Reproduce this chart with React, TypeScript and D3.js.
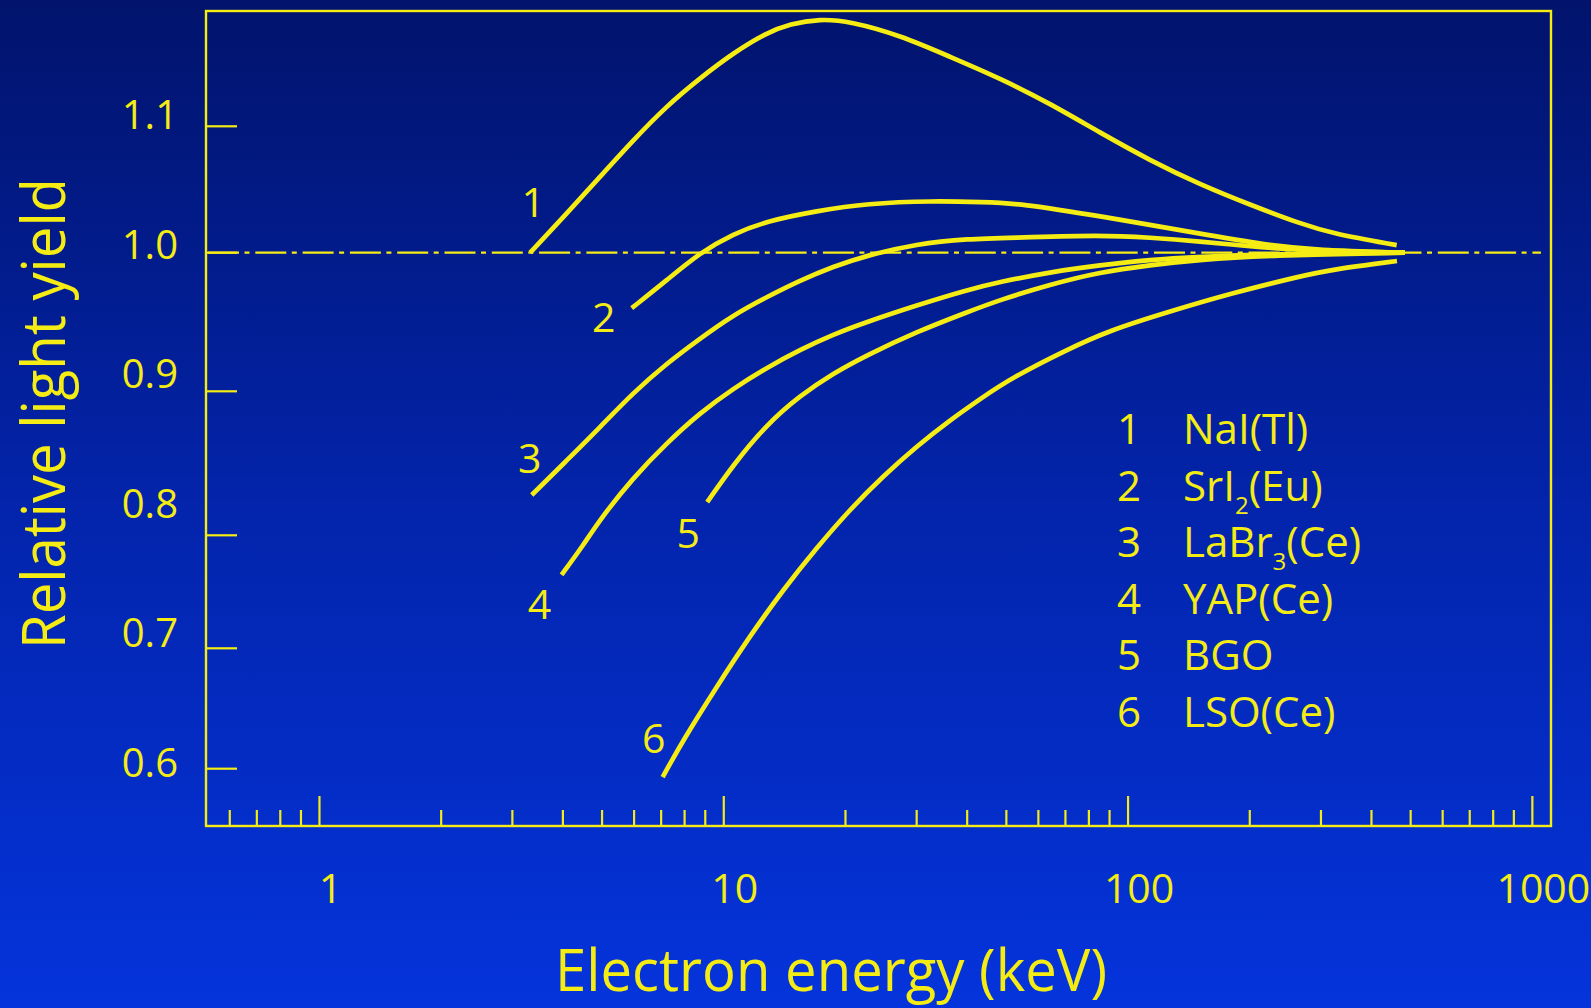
import React from "react";
import * as d3 from "d3";

// electron energy (keV) and relative light yield
const energyNaI = [3.32, 4.09, 4.94, 5.97, 7.22, 8.73, 10.56, 12.77, 14.58, 17.29, 20.52, 27.28, 36.27, 48.23, 64.1, 85.2, 113.3, 150.6, 200.2, 266.2, 321.8, 461.8];
const yieldNaI = [1.0, 1.031, 1.06, 1.089, 1.116, 1.138, 1.158, 1.174, 1.181, 1.185, 1.183, 1.172, 1.155, 1.138, 1.118, 1.095, 1.073, 1.054, 1.038, 1.023, 1.015, 1.006];

const energySrI = [5.92, 7.22, 8.73, 10.56, 12.77, 16.98, 22.57, 32.98, 43.85, 54.03, 85.2, 150.6, 220.2, 292.7, 484];
const yieldSrI = [0.96, 0.98, 1.0, 1.015, 1.025, 1.033, 1.039, 1.041, 1.04, 1.039, 1.029, 1.015, 1.006, 1.002, 1.0];

const energyLaBr = [3.35, 4.09, 4.94, 5.97, 7.22, 8.73, 10.56, 12.77, 15.44, 18.66, 22.57, 30.0, 39.9, 54.0, 85.2, 113.3, 150.6, 200.2, 266.2, 484];
const yieldLaBr = [0.828, 0.852, 0.875, 0.899, 0.92, 0.938, 0.955, 0.968, 0.98, 0.99, 0.998, 1.007, 1.011, 1.012, 1.014, 1.012, 1.009, 1.005, 1.002, 1.0];

const energyYAP = [3.97, 4.49, 4.94, 5.97, 7.22, 8.73, 10.56, 12.77, 15.44, 18.66, 22.57, 30.0, 39.9, 48.23, 64.1, 85.2, 113.3, 150.6, 220.2, 484];
const yieldYAP = [0.765, 0.791, 0.811, 0.84, 0.864, 0.885, 0.902, 0.917, 0.93, 0.941, 0.95, 0.962, 0.973, 0.979, 0.986, 0.991, 0.995, 0.997, 0.999, 1.0];

const energyBGO = [9.1, 10.56, 12.77, 15.44, 18.66, 22.57, 30.0, 39.9, 48.23, 64.1, 85.2, 113.3, 150.6, 220.2, 484];
const yieldBGO = [0.823, 0.849, 0.877, 0.897, 0.913, 0.926, 0.943, 0.957, 0.966, 0.977, 0.986, 0.991, 0.995, 0.998, 1.0];

const energyLSO = [7.06, 7.94, 9.6, 11.61, 14.04, 16.98, 20.52, 24.76, 30.05, 36.27, 43.77, 51.05, 70.5, 90.2, 124.8, 181.7, 266.2, 321.2, 462.6];
const yieldLSO = [0.593, 0.624, 0.668, 0.711, 0.752, 0.789, 0.818, 0.841, 0.862, 0.88, 0.896, 0.909, 0.93, 0.944, 0.957, 0.971, 0.983, 0.988, 0.994];

const curveNumbers = ["1", "2", "3", "4", "5", "6"];
// legend names split as [before subscript, subscript, after]
const crystalNames = [
  ["NaI(Tl)", "", ""],
  ["SrI", "2", "(Eu)"],
  ["LaBr", "3", "(Ce)"],
  ["YAP(Ce)", "", ""],
  ["BGO", "", ""],
  ["LSO(Ce)", "", ""],
];

const yTicks = [0.6, 0.7, 0.8, 0.9, 1.0, 1.1];
const yTickLabels = ["0.6", "0.7", "0.8", "0.9", "1.0", "1.1"];
const xMajor = [1, 10, 100, 1000];
const xMajorLabels = ["1", "10", "100", "1000"];
const xMinor = [0.6, 0.7, 0.8, 0.9, 2, 3, 4, 5, 6, 7, 8, 9, 20, 30, 40, 50, 60, 70, 80, 90, 200, 300, 400, 500, 600, 700, 800, 900];

const YEL = "#f5ec14";
const FONT = "'Open Sans', 'Noto Sans', sans-serif";

export default function App() {
  const W = 1591;
  const H = 1008;
  const left = 206, right = 1551, top = 11, bottom = 826;

  const x = d3.scaleLog().domain([0.524, 1112]).range([left, right]);
  // the printed axis is not quite even, so the tick positions are kept piecewise
  const y = d3
    .scaleLinear()
    .domain([0.5524, 0.6, 0.7, 0.8, 0.9, 1.0, 1.1, 1.1912])
    .range([bottom, 768.7, 648.3, 535.3, 391.3, 252.7, 126.3, top]);
  // tick labels sit on an even spacing
  const yText = d3.scaleLinear().domain([0.6, 1.1]).range([777, 129]);

  const line = d3
    .line<[number, number]>()
    .x((d) => x(d[0]))
    .y((d) => y(d[1]))
    .curve(d3.curveBasis);

  const series = [
    [energyNaI, yieldNaI],
    [energySrI, yieldSrI],
    [energyLaBr, yieldLaBr],
    [energyYAP, yieldYAP],
    [energyBGO, yieldBGO],
    [energyLSO, yieldLSO],
  ].map(([e, v]) => e.map((d, i) => [d, v[i]] as [number, number]));

  // where each curve number sits relative to the curve's first point
  const labelOffsets = [
    [3, -36],
    [-28, 24],
    [-2, -22],
    [-22, 44],
    [-19, 46],
    [-9, -24],
  ];

  return (
    <svg width={W} height={H} style={{ position: "absolute", left: 0, top: 0, display: "block" }} fontFamily={FONT}>
      <defs>
        <linearGradient id="bg" x1="0" y1="0" x2="0" y2="1">
          <stop offset="0" stopColor="#01136c" />
          <stop offset="0.5" stopColor="#0324ab" />
          <stop offset="1" stopColor="#0534dc" />
        </linearGradient>
      </defs>
      <rect width={W} height={H} fill="url(#bg)" />

      {/* reference line at 1.0 */}
      <line
        x1={left}
        x2={x(1050)}
        y1={y(1.0)}
        y2={y(1.0)}
        stroke={YEL}
        strokeWidth={2.2}
        strokeDasharray="31 5.5 5 5.8"
        strokeDashoffset={-2}
      />

      {/* frame */}
      <rect x={left} y={top} width={right - left} height={bottom - top} fill="none" stroke={YEL} strokeWidth={2.4} />

      {/* y ticks */}
      {yTicks.map((t, i) => (
        <g key={"yt" + i}>
          <line x1={left} x2={left + 31} y1={y(t)} y2={y(t)} stroke={YEL} strokeWidth={2.2} />
          <text x={178} y={yText(t)} textAnchor="end" fontSize={40} fill={YEL}>
            {yTickLabels[i]}
          </text>
        </g>
      ))}

      {/* x ticks */}
      {xMinor.map((t, i) => (
        <line key={"xm" + i} x1={x(t)} x2={x(t)} y1={bottom} y2={bottom - 16} stroke={YEL} strokeWidth={2.2} />
      ))}
      {xMajor.map((t, i) => (
        <g key={"xM" + i}>
          <line x1={x(t)} x2={x(t)} y1={bottom} y2={bottom - 30} stroke={YEL} strokeWidth={2.2} />
          <text x={x(t) + 11} y={903} textAnchor="middle" fontSize={41} fill={YEL}>
            {xMajorLabels[i]}
          </text>
        </g>
      ))}

      {/* curves */}
      {series.map((s, i) => (
        <path key={"c" + i} d={line(s) || ""} fill="none" stroke={YEL} strokeWidth={4.7} strokeLinecap="butt" />
      ))}

      {/* curve numbers */}
      {series.map((s, i) => (
        <text
          key={"n" + i}
          x={x(s[0][0]) + labelOffsets[i][0]}
          y={y(s[0][1]) + labelOffsets[i][1]}
          textAnchor="middle"
          fontSize={41}
          fill={YEL}
        >
          {curveNumbers[i]}
        </text>
      ))}

      {/* legend */}
      {crystalNames.map((n, i) => (
        <g key={"lg" + i}>
          <text x={1129} y={444 + i * 56.5} textAnchor="middle" fontSize={42} fill={YEL}>
            {curveNumbers[i]}
          </text>
          <text x={1183} y={444 + i * 56.5} fontSize={42} fill={YEL}>
            {n[0]}
            {n[1] && (
              <tspan fontSize={24} dy={13}>
                {n[1]}
              </tspan>
            )}
            {n[1] && <tspan dy={-13}>{n[2]}</tspan>}
          </text>
        </g>
      ))}

      {/* axis titles */}
      <text x={831} y={991} textAnchor="middle" fontSize={58} textLength={552} lengthAdjust="spacingAndGlyphs" fill={YEL}>
        Electron energy (keV)
      </text>
      <text
        transform="translate(65,413.5) rotate(-90)"
        textAnchor="middle"
        fontSize={60}
        textLength={471}
        lengthAdjust="spacingAndGlyphs"
        fill={YEL}
      >
        Relative light yield
      </text>
    </svg>
  );
}
